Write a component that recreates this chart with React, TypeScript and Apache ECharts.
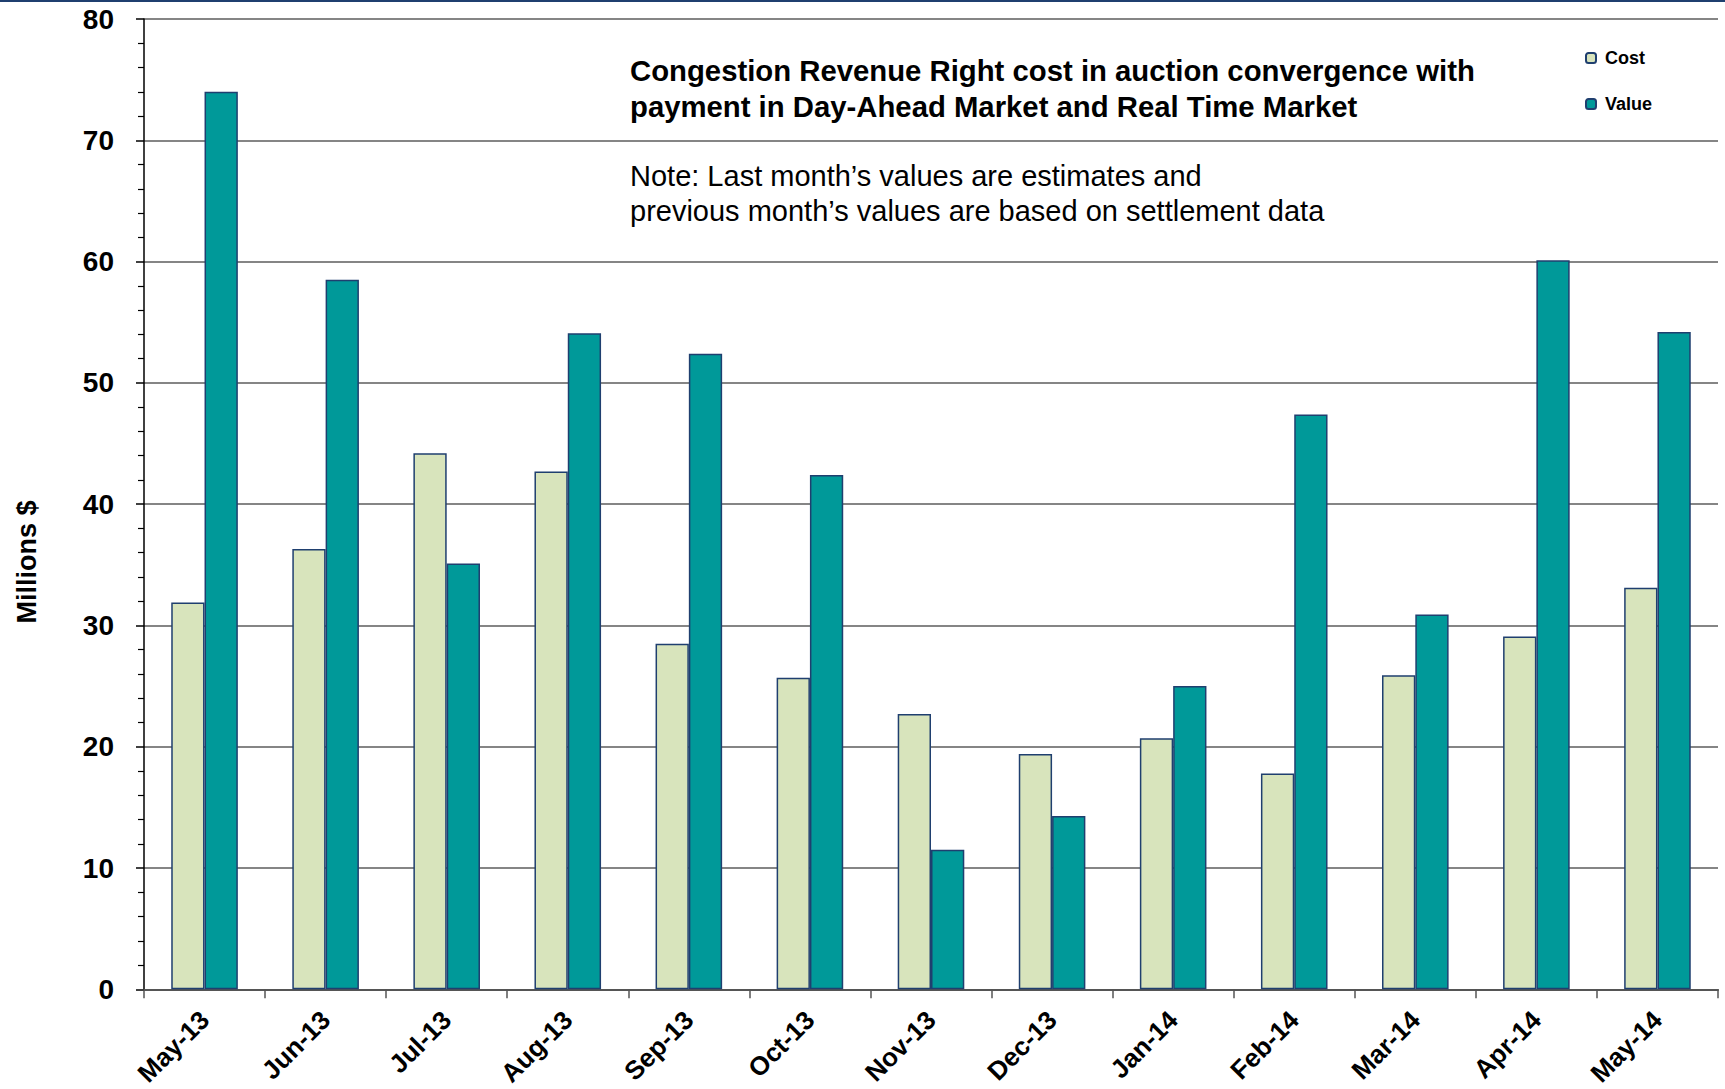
import React, { useEffect, useRef } from "react";
import * as echarts from "echarts";

const categories = ["May-13", "Jun-13", "Jul-13", "Aug-13", "Sep-13", "Oct-13", "Nov-13", "Dec-13", "Jan-14", "Feb-14", "Mar-14", "Apr-14", "May-14"];
const costValues = [31.9, 36.3, 44.2, 42.7, 28.5, 25.7, 22.7, 19.4, 20.7, 17.8, 25.9, 29.1, 33.1];
const valueValues = [74.0, 58.5, 35.1, 54.1, 52.4, 42.4, 11.5, 14.3, 25.0, 47.4, 30.9, 60.1, 54.2];
const yTicks = { min: 0, max: 80, interval: 10 };
const titleLines = ["Congestion Revenue Right cost in auction convergence with", "payment in Day-Ahead Market and Real Time Market"];
const noteLines = ["Note: Last month\u2019s values are estimates and", "previous month\u2019s values are based on settlement data"];
const yName = "Millions $";

const FONT = "'Liberation Sans', Arial, Helvetica, sans-serif";

export default function App() {
  const ref = useRef<HTMLDivElement>(null);
  useEffect(() => {
    document.body.style.margin = "0";
    document.body.style.overflow = "hidden";
    document.documentElement.style.overflow = "hidden";
    const chart = echarts.init(ref.current!, null, { renderer: "svg" });
    chart.setOption({
      animation: false,
      backgroundColor: "#ffffff",
      textStyle: { fontFamily: FONT },
      grid: { left: 144, right: 7, top: 19, bottom: 99, containLabel: false },
      legend: {
        orient: "vertical",
        left: 1580,
        top: 44,
        itemWidth: 10,
        itemHeight: 10,
        itemGap: 28,
        textStyle: { fontFamily: FONT, fontWeight: "bold", fontSize: 18, color: "#000", padding: [0, 0, 0, 4] },
        data: ["Cost", "Value"],
      },
      xAxis: {
        type: "category",
        data: categories,
        boundaryGap: true,
        axisLine: { lineStyle: { color: "#555555", width: 2 } },
        axisTick: { show: true, length: 9, lineStyle: { color: "#555555", width: 1.5 } },
        axisLabel: {
          rotate: 45,
          margin: 26,
          fontFamily: FONT,
          fontWeight: "bold",
          fontSize: 26,
          color: "#000",
          interval: 0,
        },
      },
      yAxis: {
        type: "value",
        min: yTicks.min,
        max: yTicks.max,
        interval: yTicks.interval,
        axisLine: { show: true, lineStyle: { color: "#000", width: 1.5 } },
        axisTick: { show: true, length: 8, lineStyle: { color: "#000", width: 1.5 } },
        minorTick: { show: true, splitNumber: 5, length: 6, lineStyle: { color: "#000", width: 1.2 } },
        splitLine: { show: true, lineStyle: { color: "#858585", width: 2 } },
        axisLabel: {
          margin: 30,
          fontFamily: FONT,
          fontWeight: "bold",
          fontSize: 28,
          color: "#000",
        },
      },
      series: [
        {
          name: "Cost",
          type: "bar",
          data: costValues,
          barGap: "0%",
          barCategoryGap: "45%",
          itemStyle: { color: "#d8e4bc", borderColor: "#1f3f6f", borderWidth: 1.5 },
        },
        {
          name: "Value",
          type: "bar",
          data: valueValues,
          barGap: "0%",
          barCategoryGap: "45%",
          itemStyle: { color: "#009999", borderColor: "#1f3f6f", borderWidth: 1.5 },
        },
      ],
      graphic: [
        { type: "rect", left: 0, top: 0, shape: { width: 1725, height: 2 }, style: { fill: "#1f3f6f" } },
        {
          type: "text",
          x: 27,
          y: 562,
          rotation: Math.PI / 2,
          style: { text: yName, font: `bold 27px ${FONT}`, fill: "#000", align: "center", verticalAlign: "middle" },
        },
        {
          type: "text",
          x: 630,
          y: 70,
          style: { text: titleLines[0], font: `bold 29.3px ${FONT}`, fill: "#000", align: "left", verticalAlign: "middle" },
        },
        {
          type: "text",
          x: 630,
          y: 106,
          style: { text: titleLines[1], font: `bold 29.3px ${FONT}`, fill: "#000", align: "left", verticalAlign: "middle" },
        },
        {
          type: "text",
          x: 630,
          y: 176,
          style: { text: noteLines[0], font: `29px ${FONT}`, fill: "#000", align: "left", verticalAlign: "middle" },
        },
        {
          type: "text",
          x: 630,
          y: 211,
          style: { text: noteLines[1], font: `29px ${FONT}`, fill: "#000", align: "left", verticalAlign: "middle" },
        },
      ],
    });
    return () => chart.dispose();
  }, []);
  return <div ref={ref} style={{ width: 1725, height: 1089, overflow: "hidden" }} />;
}
